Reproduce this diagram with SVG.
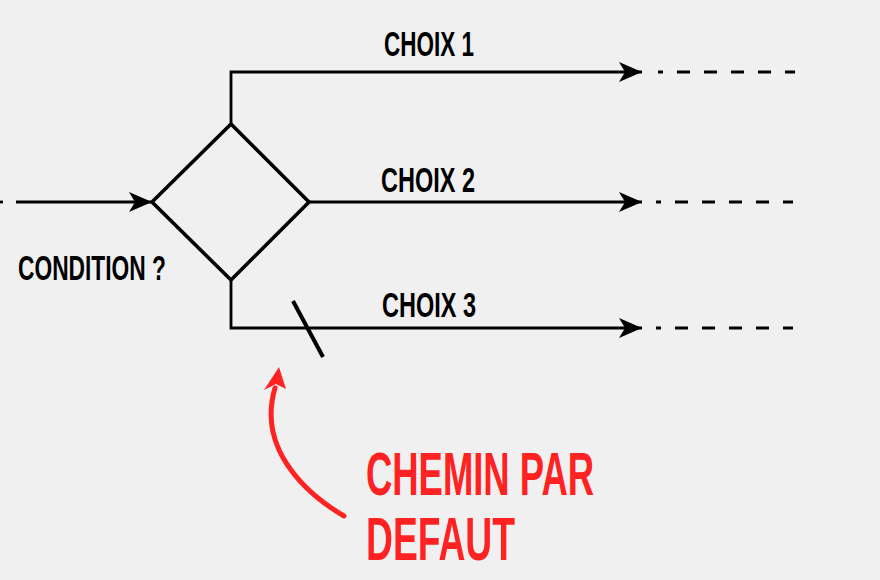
<svg xmlns="http://www.w3.org/2000/svg" width="880" height="580" viewBox="0 0 880 580">
<defs>
<style>
.ln{fill:none;stroke:#000;stroke-width:2.8}
.dash{fill:none;stroke:#000;stroke-width:2.8;stroke-dasharray:13 14;stroke-dashoffset:8}
.lbl{font-family:"Liberation Sans",Arial,sans-serif;font-weight:bold;font-size:35px;fill:#000}
.red{font-family:"Liberation Sans",Arial,sans-serif;font-weight:bold;font-size:62px;fill:#ff2222}
</style>
<marker id="ah" viewBox="0 0 23 20" refX="23" refY="10" markerWidth="23" markerHeight="20" markerUnits="userSpaceOnUse" orient="auto">
<path d="M23,10 L0,0 L6,10 L0,20 Z" fill="#000"/>
</marker>
</defs>
<rect width="880" height="580" fill="#f0f0f0"/>
<g id="decision">
<polygon points="152,202 231,124 309,202 231,280" fill="none" stroke="#000" stroke-width="3.6" stroke-linejoin="miter"/>
<text class="lbl" x="18" y="280" textLength="148" lengthAdjust="spacingAndGlyphs">CONDITION ?</text>
</g>
<g id="connectors">
<line class="ln" x1="0" y1="202" x2="3" y2="202"/>
<line class="ln" x1="16" y1="202" x2="152" y2="202" marker-end="url(#ah)"/>
<polyline class="ln" points="231,124 231,72 642,72" marker-end="url(#ah)"/>
<line class="ln" x1="309" y1="202" x2="642" y2="202" marker-end="url(#ah)"/>
<polyline class="ln" points="231,280 231,328 642,328" marker-end="url(#ah)"/>
<line class="dash" x1="658" y1="72" x2="795" y2="72"/>
<line class="dash" x1="656" y1="202" x2="793" y2="202"/>
<line class="dash" x1="656" y1="328" x2="793" y2="328"/>
<line x1="293" y1="301" x2="323" y2="357" stroke="#000" stroke-width="4"/>
</g>
<g id="labels">
<text class="lbl" x="384" y="56" textLength="90" lengthAdjust="spacingAndGlyphs">CHOIX 1</text>
<text class="lbl" x="381" y="192" textLength="94" lengthAdjust="spacingAndGlyphs">CHOIX 2</text>
<text class="lbl" x="382" y="317" textLength="94" lengthAdjust="spacingAndGlyphs">CHOIX 3</text>
</g>
<g id="annotation">
<path d="M344,516 C300,490 258,445 275,388" fill="none" stroke="#ff2222" stroke-width="5" stroke-linecap="round"/>
<polygon points="279,367 264,390 276,384 286,389" fill="#ff2222"/>
<text class="red" x="366" y="495" textLength="228" lengthAdjust="spacingAndGlyphs">CHEMIN PAR</text>
<text class="red" x="366" y="560" textLength="149" lengthAdjust="spacingAndGlyphs">DEFAUT</text>
</g>
</svg>
